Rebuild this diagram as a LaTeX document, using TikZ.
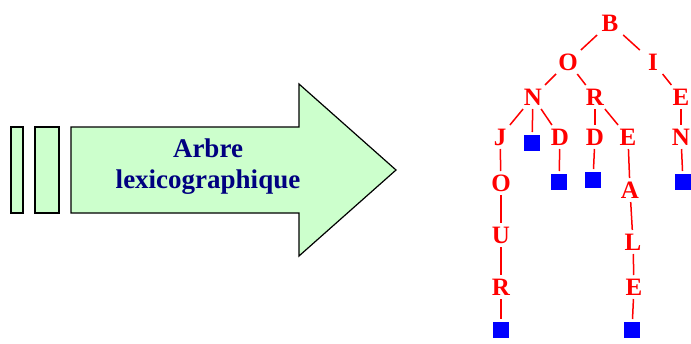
\documentclass[tikz,border=0pt]{standalone}
\usepackage{fontspec}
\setmainfont{Liberation Serif}
\usepackage{tikz}
\usetikzlibrary{positioning}
\definecolor{vertFleche}{HTML}{CCFFCC}
\definecolor{bleuTitre}{HTML}{000080}
\definecolor{rougeArbre}{HTML}{FF0000}
\definecolor{bleuFin}{HTML}{0000FF}

\begin{document}
\begin{tikzpicture}[
        x=1pt, y=-1pt,
        fl/.style={draw=black, fill=vertFleche, line width=1.2pt, line join=miter},
        lt/.style={rectangle, inner sep=0pt, outer sep=2pt, minimum width=24pt, minimum height=20pt,
            text height=16.5pt, text depth=0pt, text=rougeArbre, font=\bfseries\fontsize{25}{25}\selectfont},
        fin/.style={rectangle, fill=bleuFin, inner sep=0pt, outer sep=3pt, minimum size=16pt},
        lien/.style={rougeArbre, line width=1.5pt}
    ]
        \useasboundingbox (0,0) rectangle (691,343);
        % fleche
        \draw[fl] (11,127) rectangle (23,213);
        \draw[fl] (35,127) rectangle (59,213);
        \draw[fl] (71,127) -- (299,127) -- (299,84) -- (396,170) -- (299,256) -- (299,213) -- (71,213) -- cycle;
        \node[align=center, text=bleuTitre, font=\bfseries\fontsize{27}{31}\selectfont] (titre) at (208,167) {Arbre\\lexicographique};
        % arbre
        \node[lt] (b) at (610,23) {B};
        \node[lt] (bo) at (568,62) {O};
        \node[lt] (bi) at (653,62) {I};
        \node[lt] (bon) at (533,97) {N};
        \node[lt] (bor) at (595,97) {R};
        \node[lt] (bie) at (681,97) {E};
        \node[lt] (bonj) at (500,137) {J};
        \node[fin] (bonf) at (532,143) {};
        \node[lt] (bond) at (560,137) {D};
        \node[lt] (bord) at (595,137) {D};
        \node[lt] (bore) at (628,137) {E};
        \node[lt] (bien) at (681,137) {N};
        \node[fin] (bondf) at (559,182) {};
        \node[fin] (bordf) at (593,180) {};
        \node[fin] (bienf) at (683,182) {};
        \node[lt] (bonjo) at (501,183) {O};
        \node[lt] (borea) at (630,190) {A};
        \node[lt] (bonjou) at (501,235) {U};
        \node[lt] (boreal) at (633,242) {L};
        \node[lt] (bonjour) at (501,287) {R};
        \node[lt] (boreale) at (634,287) {E};
        \node[fin] (bonjourf) at (501,330) {};
        \node[fin] (borealef) at (632,330) {};
        \draw[lien] (b) -- (bo); \draw[lien] (b) -- (bi);
        \draw[lien] (bo) -- (bon); \draw[lien] (bo) -- (bor); \draw[lien] (bi) -- (bie);
        \draw[lien] (bon) -- (bonj); \draw[lien] (bon) -- (bonf); \draw[lien] (bon) -- (bond);
        \draw[lien] (bor) -- (bord); \draw[lien] (bor) -- (bore); \draw[lien] (bie) -- (bien);
        \draw[lien] (bonj) -- (bonjo); \draw[lien] (bond) -- (bondf); \draw[lien] (bord) -- (bordf);
        \draw[lien] (bore) -- (borea); \draw[lien] (bien) -- (bienf);
        \draw[lien] (bonjo) -- (bonjou); \draw[lien] (borea) -- (boreal);
        \draw[lien] (bonjou) -- (bonjour); \draw[lien] (boreal) -- (boreale);
        \draw[lien] (bonjour) -- (bonjourf); \draw[lien] (boreale) -- (borealef);
    \end{tikzpicture}
\end{document}
